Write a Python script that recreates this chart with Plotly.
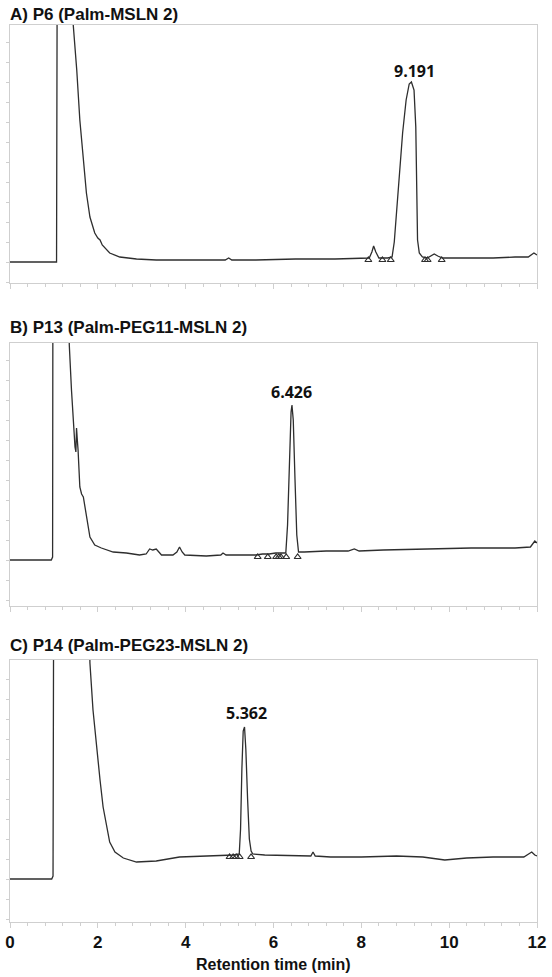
import plotly.graph_objects as go

# panel titles and peak labels
titles = ["A) P6 (Palm-MSLN 2)", "B) P13 (Palm-PEG11-MSLN 2)", "C) P14 (Palm-PEG23-MSLN 2)"]
peak_labels = ["9.191", "6.426", "5.362"]
peak_label_t = [9.20, 6.40, 5.38]
peak_label_s = [191, 168, 166]

# chromatogram A (time min, signal)
a_time = [0, 1.06, 1.08, 1.38, 1.44, 1.52, 1.59, 1.67, 1.74, 1.82, 1.93, 2.00, 2.05, 2.10, 2.14,
          2.27, 2.50, 2.88, 3.33, 4.09, 4.90, 4.98, 5.05, 5.6, 6.5, 7.4, 8.0, 8.18, 8.24, 8.28,
          8.33, 8.40, 8.60, 8.70, 8.75, 8.79, 8.86, 8.94, 9.02, 9.09, 9.14, 9.20, 9.24, 9.26,
          9.28, 9.32, 9.39, 9.50, 9.60, 9.66, 9.74, 9.85, 10.4, 11.0, 11.5, 11.8, 11.93, 12.0]
a_signal = [0, 0, 400, 400, 237, 192, 142, 102, 69, 45, 29, 24, 22, 17, 15,
            9, 5, 3, 2, 2, 2, 4, 2, 2, 3, 3, 4, 4, 10, 16,
            10, 4, 4, 5, 20, 42, 85, 129, 162, 178, 180, 172, 135, 69,
            22, 9, 5, 4, 6, 8, 6, 4, 4, 4, 5, 5, 9, 7]
a_marks_t = [8.16, 8.48, 8.67, 9.45, 9.51, 9.83]
a_marks_s = [2, 2, 2, 2, 2, 2]

# chromatogram B
b_time = [0, 0.94, 0.97, 0.98, 1.30, 1.35, 1.40, 1.44, 1.48, 1.50, 1.515, 1.53, 1.55, 1.59, 1.63,
          1.67, 1.74, 1.82, 1.93, 2.08, 2.35, 2.65, 2.95, 3.10, 3.18, 3.25, 3.33, 3.45, 3.71,
          3.80, 3.86, 3.92, 3.98, 4.47, 4.80, 4.85, 4.92, 5.3, 5.6, 5.75, 5.9, 6.05, 6.2, 6.28,
          6.32, 6.36, 6.40, 6.42, 6.45, 6.49, 6.53, 6.57, 6.7, 7.2, 7.7, 7.84, 7.95, 8.5, 9.5,
          10.5, 11.5, 11.85, 11.95, 12.0]
b_signal = [0, 0, 3, 400, 400, 215, 170, 137, 113, 108, 132, 122, 110, 73, 66,
            63, 43, 23, 15, 12, 8, 7, 5, 6, 11, 10, 11, 5, 5,
            8, 13, 8, 5, 4, 5, 7, 5, 5, 5, 6, 6, 7, 7, 7,
            35, 95, 148, 155, 140, 80, 25, 8, 8, 9, 9, 11, 9, 10, 11,
            12, 12, 13, 19, 17]
b_marks_t = [5.64, 5.87, 6.06, 6.12, 6.17, 6.29, 6.55]
b_marks_s = [3, 3, 3, 3, 3, 3, 3]

# chromatogram C
c_time = [0, 0.95, 0.98, 1.0, 1.75, 1.82, 1.89, 1.97, 2.05, 2.12, 2.20, 2.27, 2.39, 2.58, 2.88,
          3.33, 3.86, 4.47, 4.92, 5.10, 5.22, 5.25, 5.28, 5.31, 5.34, 5.37, 5.41, 5.45, 5.49,
          5.53, 5.8, 6.5, 6.85, 6.90, 6.95, 7.3, 8.0, 8.8, 9.4, 9.9, 10.4, 11.0, 11.7, 11.88,
          11.95, 12.0]
c_signal = [0, 0, 3, 400, 400, 216, 169, 132, 99, 72, 52, 37, 27, 21, 17,
            18, 22, 23, 24, 24, 25, 50, 110, 148, 152, 130, 80, 40, 28,
            25, 24, 23, 23, 27, 23, 22, 22, 23, 22, 19, 21, 22, 22, 27,
            24, 23]
c_marks_t = [5.00, 5.08, 5.15, 5.23, 5.49]
c_marks_s = [22, 22, 22, 22, 22]

x_ticks = [0, 2, 4, 6, 8, 10, 12]

W, H = 552, 977
x_px = (10, 537)
panels_px = [(25, 283, 262), (343, 606, 560), (660, 922, 879)]  # top, bottom, baseline
title_px = [14, 327, 645]

series = [(a_time, a_signal, a_marks_t, a_marks_s),
          (b_time, b_signal, b_marks_t, b_marks_s),
          (c_time, c_signal, c_marks_t, c_marks_s)]

fig = go.Figure()
line_col = "#2e2e2e"
frame_col = "#cfcfcf"
bold_font = "Liberation Sans, Arial, sans-serif"

for i, ((t, s, mt, ms), (top, bot, base)) in enumerate(zip(series, panels_px)):
    n = "" if i == 0 else str(i + 1)
    fig.add_trace(go.Scatter(x=t, y=s, mode="lines", line=dict(color=line_col, width=1.3),
                             xaxis="x" + n, yaxis="y" + n, showlegend=False, hoverinfo="skip"))
    fig.add_trace(go.Scatter(x=mt, y=ms, mode="markers",
                             marker=dict(symbol="triangle-up-open", size=6, color=line_col,
                                         line=dict(width=1.2)),
                             xaxis="x" + n, yaxis="y" + n, showlegend=False, hoverinfo="skip"))
    ydom = [(H - bot) / H, (H - top) / H]
    yrange = [-(bot - base), base - top]
    fig.layout["yaxis" + n] = dict(
        domain=ydom, range=yrange, anchor="x" + n, showline=True, linecolor=frame_col,
        mirror=True, showgrid=False, zeroline=False, ticks="outside", ticklen=3,
        tickcolor=frame_col, dtick=20, showticklabels=False, automargin=False)
    fig.layout["xaxis" + n] = dict(
        domain=[x_px[0] / W, x_px[1] / W], range=[0, 12], anchor="y" + n, showline=True,
        linecolor=frame_col, mirror=True, showgrid=False, zeroline=False,
        ticks="outside", ticklen=5, tickcolor=frame_col, tickvals=x_ticks,
        minor=dict(ticks="outside", ticklen=3, tickcolor=frame_col, dtick=0.4),
        showticklabels=(i == 2), automargin=False,
        tickfont=dict(family=bold_font, size=17, color="#111", weight="bold"))
    fig.add_annotation(text="<b>%s</b>" % titles[i], xref="paper", yref="paper",
                       x=8 / W, y=(H - title_px[i]) / H, xanchor="left", yanchor="middle",
                       showarrow=False, font=dict(family=bold_font, size=17, color="#111"))
    fig.add_annotation(text="<b>%s</b>" % peak_labels[i], x=peak_label_t[i], y=peak_label_s[i],
                       xref="x" + n, yref="y" + n, yanchor="middle",
                       showarrow=False, font=dict(family="Open Sans", size=16, color="#111"))

fig.add_annotation(text="<b>Retention time (min)</b>", xref="paper", yref="paper",
                   x=(x_px[0] + x_px[1]) / 2 / W, y=(H - 964) / H, yanchor="middle",
                   showarrow=False, font=dict(family=bold_font, size=16, color="#111"))

fig.update_layout(width=W, height=H, margin=dict(l=0, r=0, t=0, b=0),
                  plot_bgcolor="white", paper_bgcolor="white")

# drop the default page margin so the figure sits at the window's corner
fig.write_html("out.html", config={"displayModeBar": False},
               post_script="document.body.style.margin='0';")
